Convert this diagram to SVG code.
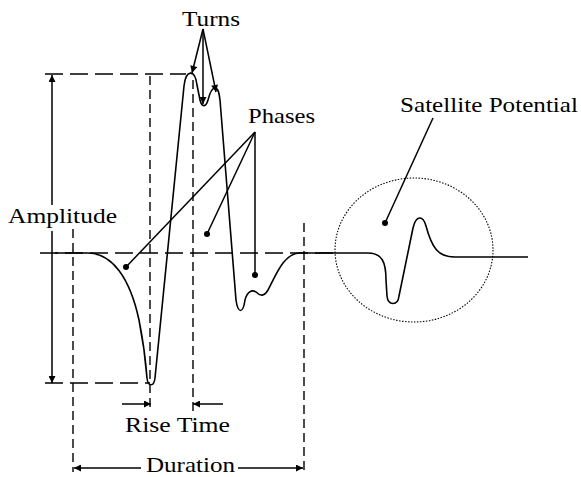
<svg xmlns="http://www.w3.org/2000/svg" width="581" height="477" viewBox="0 0 581 477">
<style>
.t{font-family:"Liberation Serif","Times New Roman",Times,serif;font-size:21px;fill:#000}
.s{fill:none;stroke:#000;stroke-width:1.5}
.w{fill:none;stroke:#000;stroke-width:1.6;stroke-linejoin:round}
.dh{fill:none;stroke:#000;stroke-width:1.4;stroke-dasharray:18 7}
.dv{fill:none;stroke:#000;stroke-width:1.4;stroke-dasharray:9 5}
.dot{fill:#000}
</style>
<defs>
<marker id="ah" viewBox="0 0 10 10" refX="10" refY="5" markerWidth="9" markerHeight="7" markerUnits="userSpaceOnUse" orient="auto">
<path d="M0,0 L10,5 L0,10 Z" fill="#000"/>
</marker>
</defs>
<rect width="581" height="477" fill="#fff"/>
<g id="guides">
<line class="dh" x1="45" y1="74" x2="186" y2="74"/>
<line class="dh" x1="45" y1="383" x2="150" y2="383"/>
<line class="dh" x1="40" y1="253" x2="336" y2="253"/>
<line class="dv" x1="150" y1="76" x2="150" y2="412"/>
<line class="dv" x1="193" y1="80" x2="193" y2="412"/>
<line class="dv" x1="73" y1="229" x2="73" y2="472"/>
<line class="dv" x1="304" y1="223" x2="304" y2="472"/>
</g>
<g id="waveform">
<path class="w" d="M55 253 L88 253 C112 253 130 278 139 320 C144 345 146 365 147 378 C148 387 154 387 155 378 L184 86 C186 69 195 69 197 85 L200 100 C202 108 206 107 208 100 C210 92 212 88 215 88 C218 88 219 92 220 100 L236 300 C238 314 243 314 245 300 C247 292 252 289 256 292 C260 296 264 297 268 290 C276 275 284 253 300 253 L368 253 C382 253 386 262 386 280 L387 296 C388 306 398 306 399 296 L413 228 C416 215 423 215 426 226 C432 248 438 257 455 257 L528 257"/>
</g>
<g id="satellite-circle">
<ellipse cx="414" cy="250" rx="79" ry="72" fill="none" stroke="#000" stroke-width="1.1" stroke-dasharray="1.5 1.5"/>
</g>
<g id="connectors">
<line class="s" x1="52" y1="205" x2="52" y2="75" marker-end="url(#ah)"/>
<line class="s" x1="52" y1="231" x2="52" y2="383" marker-end="url(#ah)"/>
<line class="s" x1="203" y1="29" x2="192" y2="73" marker-end="url(#ah)"/>
<line class="s" x1="203" y1="29" x2="203" y2="104" marker-end="url(#ah)"/>
<line class="s" x1="203" y1="29" x2="216" y2="92" marker-end="url(#ah)"/>
<line class="s" x1="255" y1="132" x2="126" y2="267"/>
<line class="s" x1="255" y1="132" x2="207" y2="234"/>
<line class="s" x1="255" y1="132" x2="255" y2="275"/>
<circle class="dot" cx="126" cy="267" r="3"/>
<circle class="dot" cx="207" cy="234" r="3"/>
<circle class="dot" cx="255" cy="275" r="3"/>
<line class="s" x1="433" y1="118" x2="385" y2="223"/>
<circle class="dot" cx="385" cy="223" r="3"/>
<line class="s" x1="122" y1="404" x2="151" y2="404" marker-end="url(#ah)"/>
<line class="s" x1="223" y1="404" x2="193" y2="404" marker-end="url(#ah)"/>
<line class="s" x1="141" y1="468" x2="74" y2="468" marker-end="url(#ah)"/>
<line class="s" x1="238" y1="468" x2="303" y2="468" marker-end="url(#ah)"/>
</g>
<g id="label-turns"><text class="t" x="182" y="26" textLength="58" lengthAdjust="spacingAndGlyphs">Turns</text></g>
<g id="label-phases"><text class="t" x="248" y="123" textLength="67" lengthAdjust="spacingAndGlyphs">Phases</text></g>
<g id="label-satellite"><text class="t" x="400" y="112" textLength="178" lengthAdjust="spacingAndGlyphs">Satellite Potential</text></g>
<g id="label-amplitude"><text class="t" x="8" y="223" textLength="109" lengthAdjust="spacingAndGlyphs">Amplitude</text></g>
<g id="label-rise-time"><text class="t" x="125" y="432" textLength="105" lengthAdjust="spacingAndGlyphs">Rise Time</text></g>
<g id="label-duration"><text class="t" x="146" y="472" font-size="20" textLength="89" lengthAdjust="spacingAndGlyphs">Duration</text></g>
</svg>
